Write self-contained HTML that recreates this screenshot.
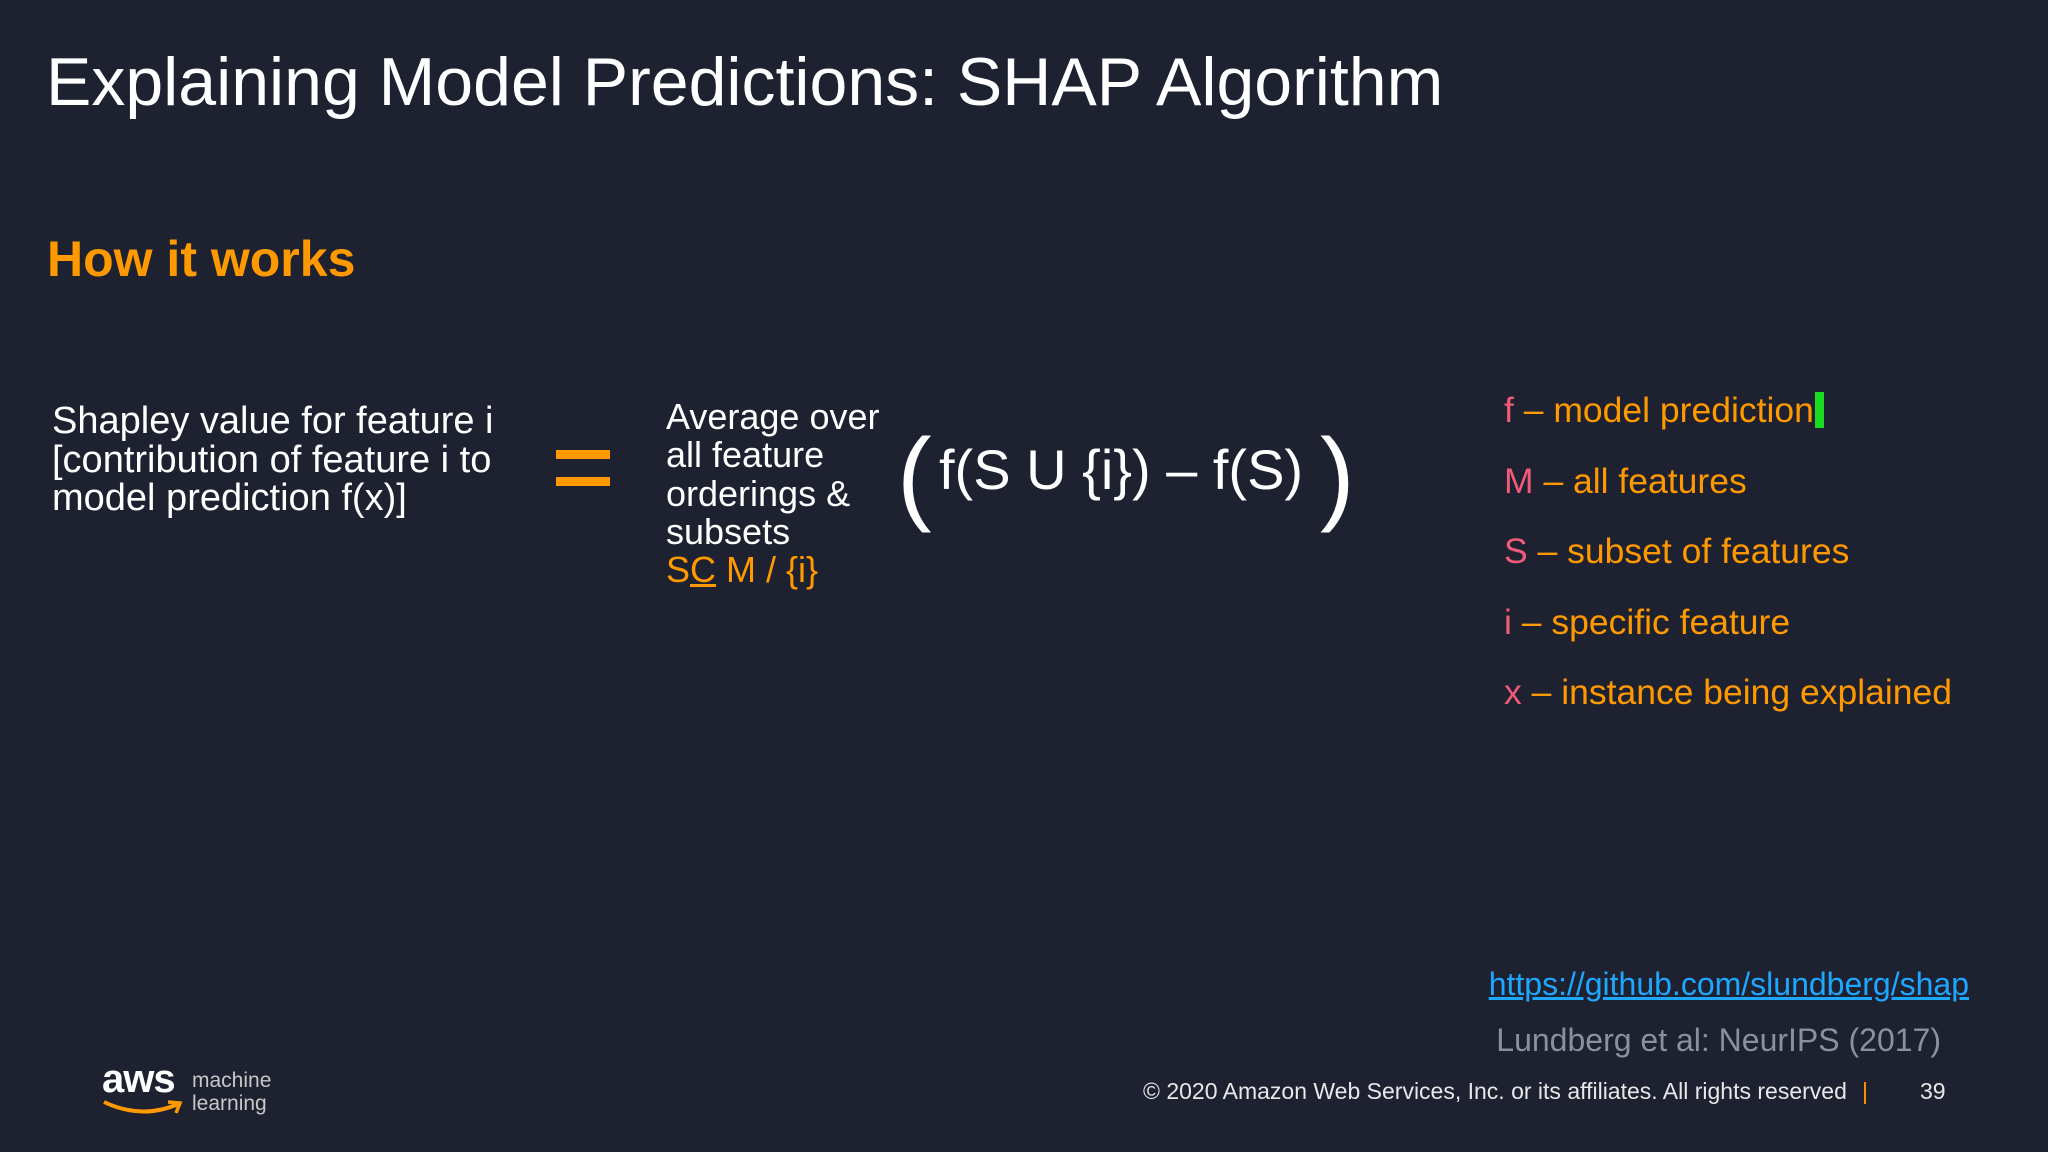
<!DOCTYPE html>
<html><head><meta charset="utf-8"><style>
html,body{margin:0;padding:0}
body{width:2048px;height:1152px;background:#1d2130;position:relative;overflow:hidden;font-family:"Liberation Sans",sans-serif;color:#fff}
.a{position:absolute;white-space:nowrap}
.o{color:#ff9900}.p{color:#ef5b78}
</style></head><body>
<div class="a" style="left:46px;top:43px;font-size:68px;line-height:78px">Explaining Model Predictions: SHAP Algorithm</div>
<div class="a o" style="left:47px;top:231px;font-size:50px;line-height:56px;font-weight:bold">How it works</div>
<div class="a" style="left:52px;top:402px;font-size:38px;line-height:38.5px">Shapley value for feature i<br>[contribution of feature i to<br>model prediction f(x)]</div>
<div class="a" style="left:556px;top:450px;width:54px;height:36px">
<div style="position:absolute;left:0;top:0;width:54px;height:9px;background:#ff9900"></div>
<div style="position:absolute;left:0;top:27px;width:54px;height:9px;background:#ff9900"></div></div>
<div class="a" style="left:666px;top:398px;font-size:36px;line-height:38.3px">Average over<br>all feature<br>orderings &amp;<br>subsets<br><span class="o">S<u>C</u> M / {i}</span></div>
<div class="a" style="left:897px;top:418px;font-size:104px;line-height:116px;font-weight:300">(</div>
<div class="a" style="left:939px;top:437px;font-size:56px;line-height:66px">f(S U {i}) – f(S)</div>
<div class="a" style="left:1320px;top:418px;font-size:104px;line-height:116px;font-weight:300">)</div>
<div class="a" style="left:1504px;top:389px;font-size:35.5px;line-height:42px"><span class="p">f</span><span class="o"> – model prediction</span></div>
<div class="a" style="left:1815px;top:392px;width:9px;height:36px;background:#1bdc22"></div>
<div class="a" style="left:1504px;top:460px;font-size:35.5px;line-height:42px"><span class="p">M</span><span class="o"> – all features</span></div>
<div class="a" style="left:1504px;top:530px;font-size:35.5px;line-height:42px"><span class="p">S</span><span class="o"> – subset of features</span></div>
<div class="a" style="left:1504px;top:601px;font-size:35.5px;line-height:42px"><span class="p">i</span><span class="o"> – specific feature</span></div>
<div class="a" style="left:1504px;top:671px;font-size:35.5px;line-height:42px"><span class="p">x</span><span class="o"> – instance being explained</span></div>
<div class="a" style="right:79px;top:964px;font-size:32px;line-height:40px;color:#1ea7ff;text-decoration:underline">https://github.com/slundberg/shap</div>
<div class="a" style="right:107px;top:1020px;font-size:32px;line-height:40px;color:#8c909a">Lundberg et al: NeurIPS (2017)</div>
<div class="a" style="left:1143px;top:1077px;font-size:23px;line-height:28px;color:#e8e8e8">© 2020 Amazon Web Services, Inc. or its affiliates. All rights reserved</div>
<div class="a o" style="left:1862px;top:1077px;font-size:23px;line-height:28px">|</div>
<div class="a" style="left:1920px;top:1077px;font-size:23px;line-height:28px;color:#e8e8e8">39</div>
<div class="a" style="left:102px;top:1056px;font-size:40px;line-height:46px;font-weight:bold;color:#fff;letter-spacing:-1px">aws</div>
<svg class="a" style="left:102px;top:1098px" width="82" height="22"><path d="M2 4 Q40 22 76 6" stroke="#ff9900" stroke-width="4" fill="none"/><path d="M66 4 L78 5 L74 15" stroke="#ff9900" stroke-width="3.5" fill="none"/></svg>
<div class="a" style="left:192px;top:1069px;font-size:21px;line-height:23px;color:#c8c8c8">machine<br>learning</div>
</body></html>
